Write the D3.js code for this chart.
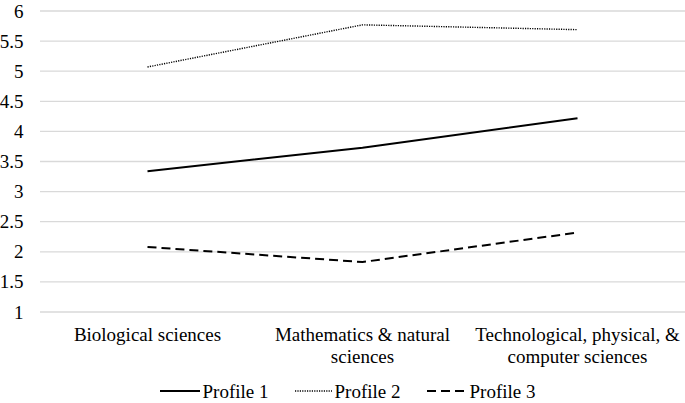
<!DOCTYPE html>
<html><head><meta charset="utf-8">
<script src="https://cdn.jsdelivr.net/npm/d3@7"></script>
</head><body style="margin:0"><svg id="c" width="685" height="403"></svg>
<script>
const categories = [["Biological sciences"], ["Mathematics & natural", "sciences"], ["Technological, physical, &", "computer sciences"]];
const profile1 = [3.34, 3.73, 4.22];
const profile2 = [5.07, 5.77, 5.69];
const profile3 = [2.08, 1.83, 2.32];
const yTicks = [1, 1.5, 2, 2.5, 3, 3.5, 4, 4.5, 5, 5.5, 6];
const seriesNames = ["Profile 1", "Profile 2", "Profile 3"];
const dashes = [null, "1.2,1.2", "9,5"];
const widths = [2, 1.4, 2];

const svg = d3.select("#c").style("display", "block");
const x = d3.scaleBand().domain(d3.range(categories.length)).range([40, 685]);
const y = d3.scaleLinear().domain([1, 6]).range([312, 11]);
const cx = i => x(i) + x.bandwidth() / 2;

svg.append("g").selectAll("line").data(yTicks).join("line")
  .attr("x1", 40).attr("x2", 685).attr("y1", d => y(d)).attr("y2", d => y(d))
  .attr("stroke", "#d9d9d9").attr("stroke-width", 1.3);
svg.selectAll("text.tick").data(yTicks).join("text").attr("class", "tick")
  .attr("x", 23.5).attr("y", d => y(d) + 6.5).attr("text-anchor", "end")
  .attr("font-size", 19).style("font-family", "Liberation Serif").text(d => d);

categories.forEach((lines, i) => {
  lines.forEach((t, j) => {
    svg.append("text").attr("x", cx(i)).attr("y", 340.5 + j * 22).attr("text-anchor", "middle")
      .attr("font-size", 19).style("font-family", "Liberation Serif").text(t);
  });
});

const line = d3.line().x((d, i) => cx(i)).y(d => y(d));
[profile1, profile2, profile3].forEach((s, k) => {
  svg.append("path").datum(s).attr("d", line).attr("fill", "none")
    .attr("stroke", "#000").attr("stroke-width", widths[k])
    .attr("stroke-dasharray", dashes[k]);
});

const leg = [{x1: 160, x2: 200}, {x1: 295, x2: 332}, {x1: 427, x2: 467}];
seriesNames.forEach((n, k) => {
  svg.append("line").attr("x1", leg[k].x1).attr("x2", leg[k].x2).attr("y1", 391).attr("y2", 391)
    .attr("stroke", "#000").attr("stroke-width", widths[k]).attr("stroke-dasharray", dashes[k]);
  svg.append("text").attr("x", leg[k].x2 + 2.5).attr("y", 397.5)
    .attr("font-size", 19).style("font-family", "Liberation Serif").text(n);
});
</script></body></html>
